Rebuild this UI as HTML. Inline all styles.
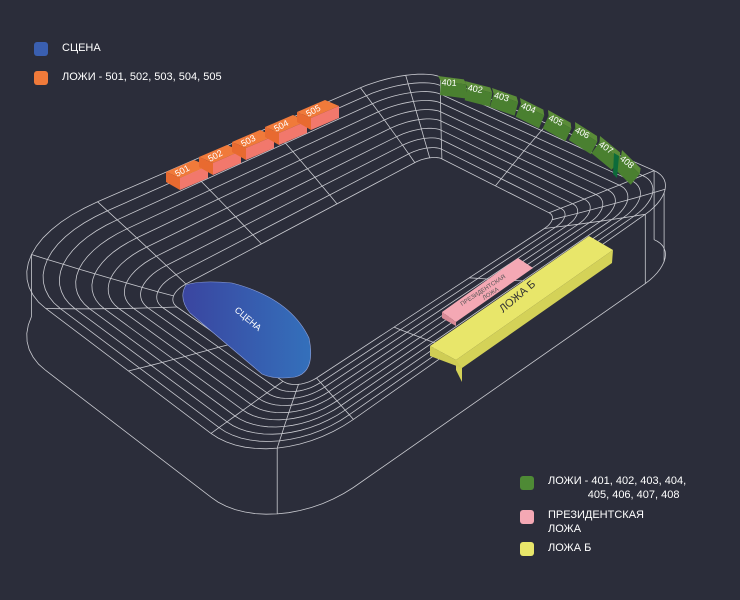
<!DOCTYPE html>
<html><head><meta charset="utf-8"><style>
html,body{margin:0;padding:0;background:#2b2d3a;width:740px;height:600px;overflow:hidden;font-family:"Liberation Sans","Noto Sans CJK SC",sans-serif}
svg{position:absolute;left:0;top:0}
.lg{position:absolute;color:#fff;font-size:11px;line-height:14px}
.sw{position:absolute;width:14px;height:14px;border-radius:3px}
</style></head><body>
<svg id="s" width="740" height="600" viewBox="0 0 740 600"></svg>
<div class="sw" style="left:34px;top:42px;background:#3a5fb0"></div><div class="lg" style="left:62px;top:41px">СЦЕНА</div>
<div class="sw" style="left:34px;top:71px;background:#f07a3a"></div><div class="lg" style="left:62px;top:70px">ЛОЖИ - 501, 502, 503, 504, 505</div>
<div class="sw" style="left:520px;top:476px;background:#4e8a35"></div><div class="lg" style="left:548px;top:474px">ЛОЖИ - 401, 402, 403, 404,<br>&nbsp;&nbsp;&nbsp;&nbsp;&nbsp;&nbsp;&nbsp;&nbsp;&nbsp;&nbsp;&nbsp;&nbsp;&nbsp;405, 406, 407, 408</div>
<div class="sw" style="left:520px;top:510px;background:#f4a8b4"></div><div class="lg" style="left:548px;top:508px">ПРЕЗИДЕНТСКАЯ<br>ЛОЖА</div>
<div class="sw" style="left:520px;top:542px;background:#e8e66a"></div><div class="lg" style="left:548px;top:541px">ЛОЖА Б</div>
<script>
var s=document.getElementById('s'),NS='http://www.w3.org/2000/svg';
function el(t,a,txt){var e=document.createElementNS(NS,t);for(var k in a)e.setAttribute(k,a[k]);if(txt)e.textContent=txt;s.appendChild(e);return e;}
var st={fill:'none',stroke:'#c9cad0','stroke-width':0.8};
var QL=[-25,255],QT=[413,65],QR=[687,185],QB=[270,478];
function P(a,b){return [(1-a)*(1-b)*QL[0]+a*(1-b)*QT[0]+a*b*QR[0]+(1-a)*b*QB[0],(1-a)*(1-b)*QL[1]+a*(1-b)*QT[1]+a*b*QR[1]+(1-a)*b*QB[1]];}
function inv(x,y){var a=0.5,b=0.5;for(var i=0;i<30;i++){var p=P(a,b),pa=P(a+1e-4,b),pb=P(a,b+1e-4);var j11=(pa[0]-p[0])/1e-4,j21=(pa[1]-p[1])/1e-4,j12=(pb[0]-p[0])/1e-4,j22=(pb[1]-p[1])/1e-4;var ex=x-p[0],ey=y-p[1],det=j11*j22-j12*j21;a+=(j22*ex-j12*ey)/det;b+=(-j21*ex+j11*ey)/det;}return [a,b];}
var iL=inv(180,300),iT=inv(432,167),iR=inv(550,220),iB=inv(300,380);
var in0={s0:(iL[0]+iB[0])/2,s1:(iT[0]+iR[0])/2,t0:(iL[1]+iT[1])/2,t1:(iR[1]+iB[1])/2};
var rO=[[0.28,0.24],[0.12,0.1],[0.1,0.12],[0.2,0.2]],rI=0.03;
var N=10;
function ring(k){var f=k/N;return {s0:in0.s0*(1-f),s1:in0.s1*(1-f)+f,t0:in0.t0*(1-f),t1:in0.t1*(1-f)+f,r:rO.map(function(r){return [rI+(r[0]-rI)*f,rI+(r[1]-rI)*f];})};}
function pts(R){var o=[],n=14,i,a;
 function arc(cs,ct,rs,rt,a0){for(i=0;i<=n;i++){a=a0+i/n*Math.PI/2;o.push([cs+rs*Math.cos(a),ct+rt*Math.sin(a)]);}}
 var r=R.r;
 arc(R.s0+r[0][0],R.t0+r[0][1],r[0][0],r[0][1],Math.PI);
 arc(R.s1-r[1][0],R.t0+r[1][1],r[1][0],r[1][1],1.5*Math.PI);
 arc(R.s1-r[2][0],R.t1-r[2][1],r[2][0],r[2][1],0);
 arc(R.s0+r[3][0],R.t1-r[3][1],r[3][0],r[3][1],0.5*Math.PI);
 return o;}
function path(L,close){return L.map(function(q,i){var p=P(q[0],q[1]);return (i?'L':'M')+p[0].toFixed(1)+','+p[1].toFixed(1);}).join('')+(close?'Z':'');}
var rings=[];for(var k=0;k<=N;k++){var R=ring(k);rings.push(pts(R));if(k>0)el('path',Object.assign({d:path(rings[k],1)},st));}
function at(k,j){var L=rings[k],M=L.length;if(j%1===0)return L[j%M];var a=L[Math.floor(j)%M],b=L[Math.ceil(j)%M],f=j%1;return [a[0]+(b[0]-a[0])*f,a[1]+(b[1]-a[1])*f];}
var idx=[0,7,14,14.33,14.66,15,22,29,29.5,30,37,44,44.33,44.66,45,52,59,59.5];
idx.forEach(function(j){var d='';for(var k=1;k<=N;k++){var q=at(k,j),p=P(q[0],q[1]);d+=(k>1?'L':'M')+p[0].toFixed(1)+','+p[1].toFixed(1);}el('path',Object.assign({d:d},st));});
var O=rings[N],seq=[],j;
for(j=30;j<60;j++)seq.push(O[j]);for(j=0;j<=7;j++)seq.push(O[j]);
function dyf(x){return 62+Math.max(0,Math.min(x,520)-150)*0.03-Math.max(0,x-520)*0.03;}
var wd='';seq.forEach(function(q,i){var p=P(q[0],q[1]);wd+=(i?'L':'M')+p[0].toFixed(1)+','+(p[1]+dyf(p[0])).toFixed(1);});
el('path',Object.assign({d:wd},st));
[0,8,14,22,seq.length-1].forEach(function(i){var q=seq[i],p=P(q[0],q[1]);el('path',Object.assign({d:'M'+p[0].toFixed(1)+','+p[1].toFixed(1)+'L'+p[0].toFixed(1)+','+(p[1]+dyf(p[0])).toFixed(1)},st));});
var d=document.createElementNS(NS,'defs');s.appendChild(d);
var g=document.createElementNS(NS,'linearGradient');g.setAttribute('id','bg');g.setAttribute('x1','0');g.setAttribute('x2','1');d.appendChild(g);
var s1=document.createElementNS(NS,'stop');s1.setAttribute('offset','0');s1.setAttribute('stop-color','#3a45a0');g.appendChild(s1);
var s2=document.createElementNS(NS,'stop');s2.setAttribute('offset','1');s2.setAttribute('stop-color','#3470bb');g.appendChild(s2);
el('path',{d:'M186,285 Q200,280 232,283 Q290,298 309,338 Q316,372 295,377 Q275,380 262,374 L190,313 Q178,298 186,285Z',fill:'url(#bg)',stroke:'#8fa0d8','stroke-width':0.6});
el('text',{x:0,y:0,fill:'#fff','font-size':9,transform:'translate(234,311) rotate(40)'},'СЦЕНА');
var ob=[[166,172,'501'],[199,157,'502'],[232,142,'503'],[265,127,'504'],[297,112,'505']];
ob.forEach(function(b){var x=b[0],y=b[1];
 el('path',{d:'M'+x+','+y+' l28,-12 l14,6 l-28,12z',fill:'#f07a3a'});
 el('path',{d:'M'+(x+14)+','+(y+6)+' l28,-12 l0,12 l-28,12z',fill:'#f2786c'});
 el('path',{d:'M'+x+','+y+' l14,6 l0,12 l-14,-8z',fill:'#e86a30'});
 el('text',{x:0,y:0,fill:'#fff','font-size':9,transform:'translate('+(x+11)+','+(y+5)+') rotate(-28)'},b[2]);});
var gb=[[438,76,'401',3],[465,81,'402',10],[492,88,'403',15],[520,98,'404',22],[548,110,'405',25],[575,122,'406',28],[600,136,'407',35],[622,150,'408',40]];
gb.forEach(function(b){var x=b[0],y=b[1],r=b[3],tr='translate('+x+','+y+') rotate('+r+')';
 el('path',{d:'M0,0 l26,2 l3,5 l-26,-2z',fill:'#5a8c38',transform:tr});
 el('path',{d:'M3,5 l26,2 l0,14 l-26,-2z',fill:'#4a8030',transform:tr});
 el('text',{x:4,y:9,fill:'#fff','font-size':9,transform:tr},b[2]);});
el('path',{d:'M614,153 l5,3 l-2,22 l-4,-4z',fill:'#0d6b3a'});
el('path',{d:'M442,312 L518,258 L533,268 L456,322Z',fill:'#f4a8b4'});
el('path',{d:'M442,312 L456,322 L456,326 L442,318Z',fill:'#d98a96'});
el('text',{x:0,y:0,fill:'#555','font-size':6,transform:'translate(462,306) rotate(-33)'},'ПРЕЗИДЕНТСКАЯ');
el('text',{x:0,y:0,fill:'#555','font-size':6,transform:'translate(484,300) rotate(-33)'},'ЛОЖА');
el('path',{d:'M430,346 L589,236 L613,250 L456,360Z',fill:'#e8e66a'});
el('path',{d:'M456,360 L613,250 L612,263 L462,368 L462,382 L456,370Z',fill:'#d4d258'});
el('path',{d:'M430,346 L456,360 L462,368 L430,356Z',fill:'#cfcd55'});
el('text',{x:0,y:0,fill:'#333','font-size':11,transform:'translate(503,313) rotate(-40)'},'ЛОЖА Б');
</script>
</body></html>
